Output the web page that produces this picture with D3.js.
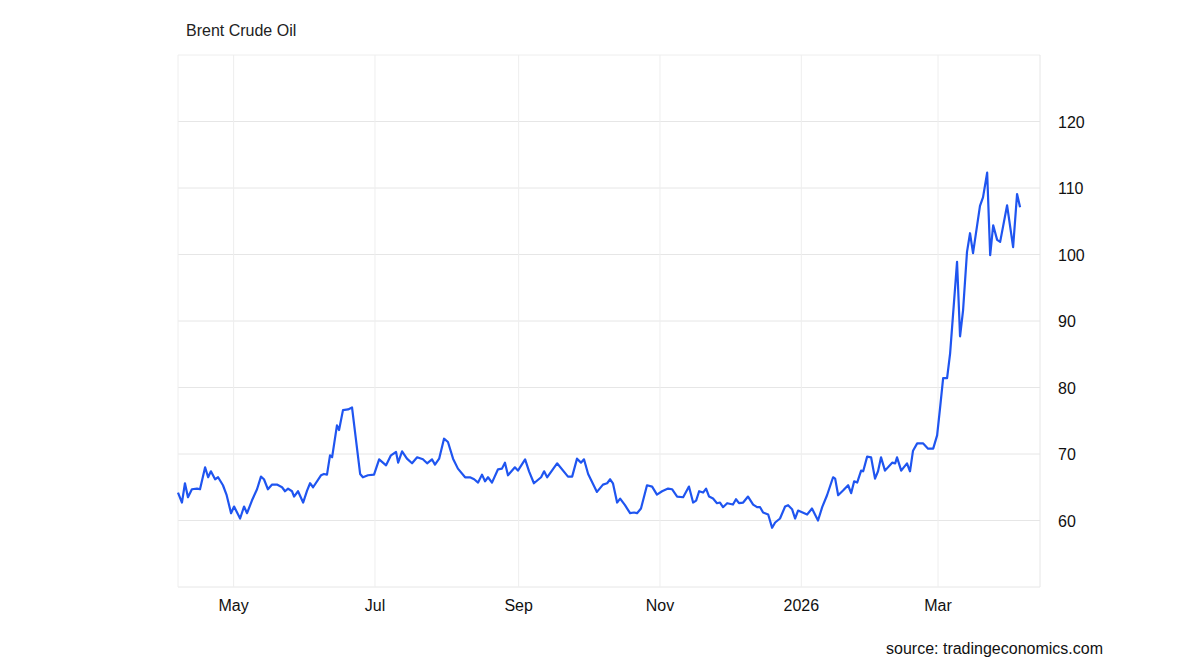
<!DOCTYPE html>
<html><head><meta charset="utf-8">
<script src="https://cdn.jsdelivr.net/npm/d3@7"></script>
<style>body{margin:0;background:#fff;font-family:"Liberation Sans",Arial,sans-serif}</style>
</head><body><svg id="c" width="1200" height="670"></svg>
<script>
const startDate = "2025-04-07";
const days = [0,1.7,3,4.3,6,8.2,9.5,11.7,13,14.2,16,17.3,19.4,21,22.9,24.2,26.8,28.5,29.8,31.9,34.1,35.8,37.1,38.8,40.6,42.7,44.9,46.2,47.5,49.2,50.1,51.8,54,55.7,57,58.3,61.7,63,64.3,65.6,66.5,68.6,69.5,71.2,73.4,75.1,78.6,79.8,82,84.6,86.8,89.8,91.9,94.1,95,96.7,98.8,101,103.2,105.7,107.5,109.6,110.9,112.7,114.8,116.5,118.7,120.8,123.9,126,127.8,129.5,131.2,132.5,133.8,135.5,138.1,139.8,141.1,142.4,145.4,146.7,149.8,151.5,153.6,156.7,158,159.3,163.6,168.3,170.1,172.2,173.9,175.2,177,180.8,183.4,185.2,186.5,187.7,189.5,190.8,192.9,195.1,196.8,198.1,199.8,202.4,204.6,206.7,208.9,211.5,213.2,215.4,218,220.5,222.3,223.6,224.9,226.6,227.9,229.2,230.9,232.6,233.9,235.2,237,239.5,240.8,242.1,243.9,246,248.2,249.9,251.2,252.5,254.7,256.4,257.7,259.8,262,263.3,265,266.3,267.6,271.5,273.6,276.2,278,280.1,282.7,283.6,284.9,287,289.2,290.5,291.8,293.1,294.8,295.7,297.4,299.1,300.8,302.1,303.4,305.1,308.2,309.5,310.3,312.1,314.6,315.9,317.2,319,321.5,323.7,325.9,327.6,328.9,330.2,331.9,333.2,336.2,337.5,338.8,340.5,341.8,343.1,346.1,347.4,349.2,350.5,351.8,353.5,354.8,357.8,360.4,362.1,363.4];
const prices = [64.2,62.7,65.6,63.5,64.7,64.8,64.7,68.0,66.5,67.4,66.2,66.5,65.3,63.8,61.1,62.1,60.3,62.1,61.1,63.0,64.7,66.6,66.2,64.7,65.4,65.4,65.0,64.4,64.8,64.4,63.6,64.4,62.7,64.5,65.6,65.0,66.8,67.0,66.9,69.8,69.5,74.3,73.6,76.6,76.7,77.0,67.0,66.5,66.8,66.9,69.2,68.3,69.8,70.3,68.7,70.4,69.3,68.6,69.5,69.2,68.6,69.2,68.4,69.3,72.3,71.8,69.3,67.8,66.5,66.5,66.2,65.7,66.9,65.9,66.5,65.7,67.7,67.8,68.7,66.8,68.0,67.5,69.2,67.4,65.6,66.5,67.4,66.5,68.6,66.6,66.6,69.3,68.7,69.2,67.0,64.3,65.4,65.6,66.2,65.6,62.7,63.3,62.3,61.1,61.2,61.1,61.8,65.3,65.1,63.9,64.4,64.8,64.7,63.6,63.5,65.1,62.7,63.0,64.4,64.2,64.8,63.6,63.3,62.6,62.7,62.0,62.6,62.4,63.2,62.6,62.7,63.6,62.4,62.0,62.0,61.2,60.9,58.9,59.7,60.3,62.1,62.3,61.7,60.3,61.5,60.9,61.8,60.0,62.0,63.8,66.5,66.3,63.8,64.5,65.3,64.1,65.9,65.7,67.5,67.4,69.6,69.5,66.3,67.4,69.5,67.5,68.7,68.6,69.5,67.5,68.6,67.4,70.5,71.6,71.6,70.8,70.8,72.8,77.0,81.4,81.4,85.1,98.9,87.7,91.6,100.4,103.2,100.2,107.3,108.6,112.3,99.9,104.4,102.2,101.9,107.4,101.1,109.1,107.1];
const yTicks = [60,70,80,90,100,110,120];
const xTickDates = ["2025-05-01","2025-07-01","2025-09-01","2025-11-01","2026-01-01","2026-03-01"];
const xTickLabels = ["May","Jul","Sep","Nov","2026","Mar"];

const svg = d3.select("#c");
const L=178,R=1040,T=55,B=587;
const p = d3.timeParse("%Y-%m-%d");
const s0 = p(startDate);
const data = days.map((d,i)=>({date:new Date(+s0 + d*86400000), v:prices[i]}));
const x = d3.scaleTime().domain([p("2025-04-07"), p("2026-04-14")]).range([L,R]);
const y = d3.scaleLinear().domain([50,130]).range([B,T]);

const g = svg.append("g");
g.selectAll(".hg").data(yTicks).join("line").attr("x1",L).attr("x2",R)
 .attr("y1",d=>y(d)).attr("y2",d=>y(d)).attr("stroke","#e6e6e6");
g.append("line").attr("x1",L).attr("x2",R).attr("y1",T).attr("y2",T).attr("stroke","#eeeeee");
g.append("line").attr("x1",L).attr("x2",R).attr("y1",B).attr("y2",B).attr("stroke","#e6e6e6");
g.selectAll(".vg").data(xTickDates).join("line").attr("x1",d=>x(p(d))).attr("x2",d=>x(p(d)))
 .attr("y1",T).attr("y2",B).attr("stroke","#eeeeee");
g.append("line").attr("x1",L).attr("x2",L).attr("y1",T).attr("y2",B).attr("stroke","#eeeeee");
g.append("line").attr("x1",R).attr("x2",R).attr("y1",T).attr("y2",B).attr("stroke","#e6e6e6");

svg.selectAll(".yl").data(yTicks).join("text").attr("x",R+18).attr("y",d=>y(d)+6)
 .attr("font-size",16).attr("fill","#111").text(d=>d);
svg.selectAll(".xl").data(xTickDates).join("text").attr("x",d=>x(p(d))).attr("y",611)
 .attr("text-anchor","middle").attr("font-size",16).attr("fill","#111").text((d,i)=>xTickLabels[i]);

svg.append("path").datum(data).attr("fill","none").attr("stroke","#1f55f0").attr("stroke-width",2.2)
 .attr("stroke-linejoin","round")
 .attr("d",d3.line().x(d=>x(d.date)).y(d=>y(d.v)));

svg.append("text").attr("x",186).attr("y",36).attr("font-size",16).attr("fill","#222").text("Brent Crude Oil");
svg.append("text").attr("x",1103).attr("y",654).attr("text-anchor","end").attr("font-size",16).attr("fill","#111").text("source: tradingeconomics.com");
</script></body></html>
